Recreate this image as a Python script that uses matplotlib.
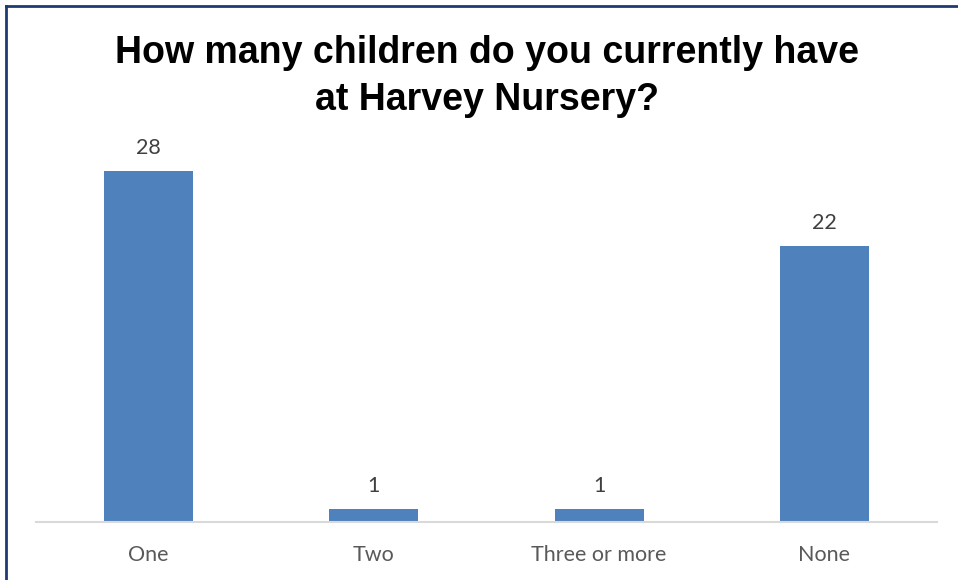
import matplotlib
matplotlib.use("Agg")
import matplotlib.pyplot as plt
from matplotlib.lines import Line2D

categories = ["One", "Two", "Three or more", "None"]
values = [28, 1, 1, 22]
title = "How many children do you currently have\nat Harvey Nursery?"

W, H = 958, 580
fig = plt.figure(figsize=(W / 100, H / 100), dpi=100)
fig.patch.set_facecolor("white")

ax = fig.add_axes([36 / W, (H - 522) / H, (937 - 36) / W, (522 - 146) / H])
x = range(len(categories))
bars = ax.bar(x, values, width=0.395, color="#4F81BD", zorder=2)
ax.set_xlim(-0.5, len(categories) - 0.5)
ax.set_ylim(0, 30)
ax.set_yticks([])
for s in ["top", "right", "left"]:
    ax.spines[s].set_visible(False)
ax.spines["bottom"].set_color("#D9D9D9")
ax.spines["bottom"].set_linewidth(1.5)
ax.set_xticks(list(x))
ax.set_xticklabels(categories, fontsize=15.5, color="#595959", family=["Lato", "DejaVu Sans"])
ax.tick_params(axis="x", length=0, pad=16.5)

for xi, v in zip(x, values):
    ax.annotate(str(v), (xi, v), xytext=(0, 9.5), textcoords="offset points",
                ha="center", va="bottom", fontsize=15.5, color="#404040",
                family=["Lato", "DejaVu Sans"], annotation_clip=False)

fig.text(487 / W, 1 - 76.5 / H, title, ha="center", va="center", fontsize=27,
         fontweight="bold", family=["Liberation Sans", "DejaVu Sans"],
         linespacing=1.38, color="black")

navy = "#1F3A73"
fig.add_artist(Line2D([6 / W, 6 / W], [0, 1 - 6 / H], transform=fig.transFigure, color=navy, lw=2))
fig.add_artist(Line2D([6 / W, 1], [1 - 6 / H, 1 - 6 / H], transform=fig.transFigure, color=navy, lw=2))

fig.savefig("out.png", dpi=100)
